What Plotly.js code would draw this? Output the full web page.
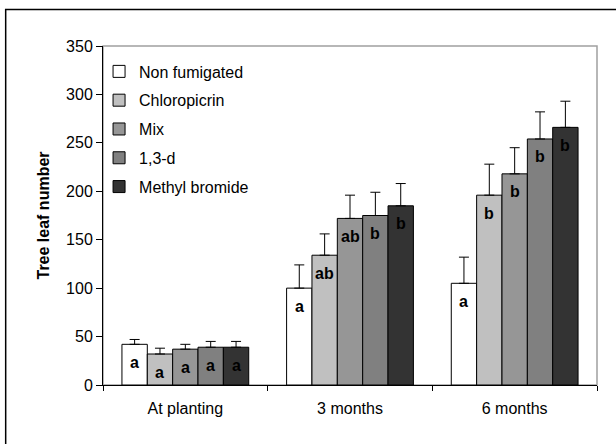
<!DOCTYPE html>
<html><head><meta charset="utf-8">
<script src="https://cdn.plot.ly/plotly-3.0.1.min.js"></script>
<style>html,body{margin:0;padding:0;background:#fff}#chart{width:616px;height:444px}</style>
</head><body><div id="chart"></div>
<script>
const categories = ["At planting", "3 months", "6 months"];
const seriesNames = ["Non fumigated", "Chloropicrin", "Mix", "1,3-d", "Methyl bromide"];
const nonFumigated = [42, 100, 105];
const chloropicrin = [32, 134, 196];
const mix = [37, 172, 218];
const d13 = [39, 175, 254];
const methylBromide = [39, 185, 266];
const errNonFumigated = [5, 24, 27];
const errChloropicrin = [6, 22, 32];
const errMix = [5, 24, 27];
const errD13 = [6, 24, 28];
const errMethylBromide = [6, 23, 27];
const lettersNonFumigated = ["a", "a", "a"];
const lettersChloropicrin = ["a", "ab", "b"];
const lettersMix = ["a", "ab", "b"];
const lettersD13 = ["a", "b", "b"];
const lettersMethylBromide = ["a", "b", "b"];

const values = [nonFumigated, chloropicrin, mix, d13, methylBromide];
const errors = [errNonFumigated, errChloropicrin, errMix, errD13, errMethylBromide];
const letters = [lettersNonFumigated, lettersChloropicrin, lettersMix, lettersD13, lettersMethylBromide];
const colors = ["#ffffff", "#c0c0c0", "#969696", "#808080", "#333333"];
const bargap = 0.23;
const font = "Liberation Sans, Arial, sans-serif";

const traces = seriesNames.map((name, i) => ({
  type: "bar", name: name, x: categories, y: values[i],
  legendgroup: "g" + i,
  marker: {color: colors[i], line: {color: "#000", width: 1}},
  error_y: {type: "data", array: errors[i], arrayminus: errors[i].map(() => 0), symmetric: false,
            color: "#000", thickness: 1, width: 5},
  hoverinfo: "none"
}));

const annotations = [];
const bw = (1 - bargap) / seriesNames.length;
seriesNames.forEach((name, i) => {
  categories.forEach((c, j) => {
    annotations.push({
      x: j + (i - (seriesNames.length - 1) / 2) * bw, y: values[i][j],
      xref: "x", yref: "y", text: "<b>" + letters[i][j] + "</b>", showarrow: false,
      yshift: -18, font: {family: font, size: 16, color: "#000"}
    });
  });
});

const layout = {
  width: 616, height: 444,
  margin: {l: 103, r: 19, t: 46, b: 59},
  paper_bgcolor: "#fff", plot_bgcolor: "#fff",
  font: {family: font, size: 16, color: "#000"},
  barmode: "group", bargap: bargap, bargroupgap: 0,
  showlegend: true,
  legend: {x: -0.008, y: 0.975, xanchor: "left", yanchor: "top", bgcolor: "rgba(0,0,0,0)",
           itemwidth: 30, font: {family: font, size: 16, color: "#000"}, tracegroupgap: 5, traceorder: "grouped"},
  xaxis: {type: "category", showline: true, linecolor: "#000", linewidth: 1,
          ticks: "outside", tickson: "boundaries", ticklen: 5, tickcolor: "#000",
          showgrid: false, zeroline: false, tickfont: {size: 16}, ticklabelstandoff: 9},
  yaxis: {range: [0, 350], dtick: 50, showline: true, linecolor: "#000", linewidth: 1,
          ticks: "outside", ticklen: 6, tickcolor: "#000", showgrid: false, zeroline: false,
          tickfont: {size: 16},
          title: {text: "<b>Tree leaf number</b>", font: {family: font, size: 16}, standoff: 12}},
  annotations: annotations,
  shapes: [
    {type: "rect", xref: "paper", yref: "paper", x0: 0, x1: 1, y0: 0, y1: 1,
     line: {color: "#a0a0a0", width: 1.5}, layer: "below"},
    {type: "rect", xref: "paper", yref: "paper", x0: -0.197, x1: 1.2, y0: -0.3, y1: 1.1077,
     line: {color: "#000", width: 1.5}, layer: "below"}
  ]
};

Plotly.newPlot("chart", traces, layout, {staticPlot: true});
</script></body></html>
